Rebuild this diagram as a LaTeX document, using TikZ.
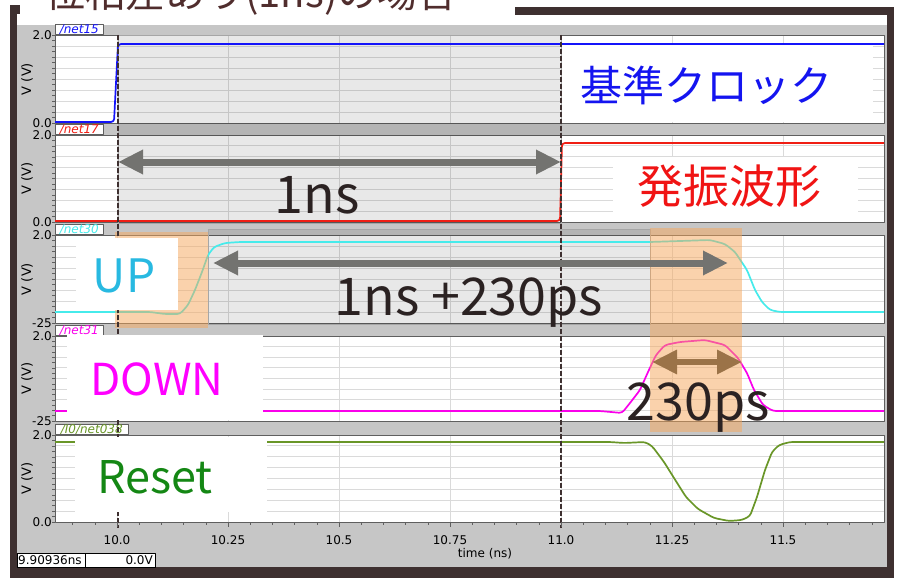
\documentclass[tikz,border=0pt]{standalone}
\usepackage{fontspec}
\setmainfont{Noto Sans CJK JP}
\newfontfamily\axisfont{DejaVu Sans}
\usetikzlibrary{arrows.meta}
\definecolor{framecol}{RGB}{62,48,48}
\definecolor{bggray}{RGB}{198,198,198}
\definecolor{gridcol}{RGB}{218,218,218}
\definecolor{borderc}{RGB}{95,95,95}
\definecolor{wblue}{RGB}{20,20,250}
\definecolor{wred}{RGB}{240,30,20}
\definecolor{wcyan}{RGB}{70,235,235}
\definecolor{wmag}{RGB}{250,0,235}
\definecolor{wolive}{RGB}{105,150,40}
\definecolor{hiorange}{RGB}{247,167,91}
\definecolor{arrowgray}{RGB}{115,115,112}
\definecolor{arrowbrown}{RGB}{155,115,72}
\definecolor{textdark}{RGB}{43,34,34}
\definecolor{titlecol}{RGB}{80,45,45}
\definecolor{lblblue}{RGB}{20,20,240}
\definecolor{lblred}{RGB}{240,20,20}
\definecolor{lblup}{RGB}{40,185,225}
\definecolor{lbldown}{RGB}{255,0,255}
\definecolor{lblreset}{RGB}{20,135,20}
\begin{document}
\begin{tikzpicture}[x=1pt,y=-1pt,line join=round,
wave/.style={line width=1.7pt,rounded corners=3pt},
gridline/.style={draw=gridcol,line width=0.8pt},
axislabel/.style={font=\axisfont\fontsize{12}{13}\selectfont,inner sep=1pt},
tabbox/.style={draw=borderc,fill=white,line width=0.6pt,minimum height=10pt,
inner sep=0pt,anchor=south west,font=\axisfont\itshape\fontsize{12}{12}\selectfont},
cursor/.style={draw=framecol,line width=2pt,dash pattern=on 5pt off 2pt},
bigarrow/.style={line width=7pt,
{Triangle[length=25pt,width=23pt]}-{Triangle[length=25pt,width=23pt]}},
biglabel/.style={text=textdark,font=\fontsize{52}{60}\selectfont,
inner sep=0pt,anchor=base}]
\useasboundingbox (0,0) rectangle (898,578);
% Rahmen und Hintergrund
\fill[bggray] (17,25) rectangle (887,567);
\fill[framecol] (10,5) rectangle (17,578);
\fill[framecol] (10,5) rectangle (20,14);
\fill[framecol] (515,7) rectangle (894,15);
\fill[framecol] (887,7) rectangle (894,578);
\fill[framecol] (10,567) rectangle (894,578);
\node[text=titlecol,font=\fontsize{40}{44}\selectfont,anchor=base west,inner sep=0pt]
(title) at (45,8) {位相差あり(1ns)の場合};
% Panels: oben/unten/untere Marke
\foreach \t/\b/\lo [count=\i] in {35/123/0.0,135/222/0.0,235/323/-25,336/421/-25,435/522/0.0}{
\fill[white] (55,\t) rectangle (884,\b);
\foreach \k in {1,...,7}
\draw[gridline] (55,{\t+\k*(\b-\t)/8}) -- (884,{\t+\k*(\b-\t)/8});
\foreach \gx in {117,228,339,450,561,672,783}
\draw[gridline] (\gx,\t) -- (\gx,\b);
\draw[borderc,line width=0.8pt] (55,\t) rectangle (884,\b);
\foreach \k in {0,...,16}
\draw[borderc,line width=0.5pt] (52,{\t+\k*(\b-\t)/16}) -- (55,{\t+\k*(\b-\t)/16});
\node[axislabel,anchor=east] (hi\i) at (53,\t) {2.0};
\node[axislabel,anchor=east] (lo\i) at (53,\b) {\lo};
\node[axislabel,rotate=90,font=\axisfont\fontsize{13}{14}\selectfont] (vv\i) at (27,{(\t+\b)/2}) {V (V)};
}
% Reiter
\node[tabbox,text=wblue,minimum width=48pt] (tab1) at (55,35) {/net15};
\node[tabbox,text=wred,minimum width=48pt] (tab2) at (55,135) {/net17};
\node[tabbox,text=wcyan,minimum width=48pt] (tab3) at (55,235) {/net30};
\node[tabbox,text=wmag,minimum width=48pt] (tab4) at (55,336) {/net31};
\node[tabbox,text=wolive,minimum width=73pt] (tab5) at (55,435) {/I0/net038};
% graue Bereiche
\filldraw[fill=black,fill opacity=0.09,draw=gray!70,line width=0.8pt] (118,35) rectangle (561,223);
\filldraw[fill=black,fill opacity=0.09,draw=gray!70,line width=0.8pt] (208,229) rectangle (650,324);
% Kurven
\draw[wave,wblue] (55,122) -- (114,122) -- (118,44) -- (884,44);
\draw[wave,wred] (55,221) -- (560,221) -- (562,143) -- (884,143);
\draw[wave,wcyan] (55,312) -- (150,312) -- (165,314) -- (180,314) -- (188,305)
-- (195,290) -- (202,272) -- (208,255) -- (214,247) -- (225,243) -- (240,242)
-- (650,242) -- (680,241) -- (710,240) -- (725,244) -- (735,252) -- (747,270)
-- (755,290) -- (762,302) -- (770,310) -- (780,312) -- (884,312);
\draw[wave,wmag] (55,411) -- (600,411) -- (622,413) -- (630,403) -- (640,390)
-- (648,372) -- (656,355) -- (665,345) -- (680,342) -- (705,340) -- (725,345)
-- (738,358) -- (747,373) -- (754,390) -- (763,405) -- (773,411) -- (884,411);
\draw[wave,wolive] (55,442) -- (610,442) -- (624,443) -- (645,442) -- (652,446)
-- (664,462) -- (674,478) -- (686,497) -- (698,509) -- (714,518) -- (729,521)
-- (742,520) -- (750,516) -- (757,497) -- (765,470) -- (772,452) -- (779,445)
-- (790,442) -- (884,442);
% orange Markierungen
\fill[hiorange,opacity=0.5] (115,232) rectangle (208,328);
\fill[hiorange,opacity=0.5] (650,228) rectangle (742,432);
% Cursor
\draw[cursor] (118,35) -- (118,528);
\draw[cursor] (561,35) -- (561,528);
% Beschriftungen in weissen Feldern
\fill[white] (562,45) rectangle (873,122);
\node[text=lblblue,font=\fontsize{42}{46}\selectfont,inner sep=0pt] (clk) at (706,85) {基準クロック};
\fill[white] (613,157) rectangle (858,222);
\node[text=lblred,font=\fontsize{46}{50}\selectfont,inner sep=0pt] (osc) at (729,186) {発振波形};
\fill[white] (76,238) rectangle (178,310);
\node[text=lblup,font=\fontsize{46}{50}\selectfont,inner sep=0pt,anchor=base] (up) at (124,292) {UP};
\fill[white] (67,335) rectangle (263,420);
\node[text=lbldown,font=\fontsize{44}{48}\selectfont,inner sep=0pt,anchor=base] (down) at (157,395) {DOWN};
\fill[white] (75,437) rectangle (267,512);
\node[text=lblreset,font=\fontsize{45}{49}\selectfont,inner sep=0pt,anchor=base] (reset) at (155,493) {Reset};
% Pfeile
\coordinate (a1l) at (118,162);
\coordinate (a1r) at (561,162);
\coordinate (a2l) at (213,263);
\coordinate (a2r) at (728,263);
\coordinate (a3l) at (652,362);
\coordinate (a3r) at (742,362);
\draw[bigarrow,arrowgray] (a1l) -- (a1r);
\draw[bigarrow,arrowgray] (a2l) -- (a2r);
\draw[bigarrow,arrowbrown,line width=6pt] (a3l) -- (a3r);
\node[biglabel] (t1ns) at (317,213) {1ns};
\node[biglabel] (t1ns230) at (469,315) {1ns +230ps};
\node[biglabel] (t230) at (698,420) {230ps};
% Zeitachse
\foreach \k in {-2,...,34}
\draw[borderc,line width=0.5pt] ({117+22.2*\k},522) -- ({117+22.2*\k},525);
\foreach \gx/\tl [count=\j] in {117/10.0,228/10.25,339/10.5,450/10.75,561/11.0,672/11.25,783/11.5}{
\draw[borderc,line width=0.6pt] (\gx,522) -- (\gx,527);
\node[axislabel] (tk\j) at (\gx,540) {\tl};
}
\node[axislabel] (tlab) at (485,554) {time (ns)};
% Statuszeile
\filldraw[fill=white,draw=black,line width=0.6pt] (17,553) rectangle (85,567);
\filldraw[fill=white,draw=black,line width=0.6pt] (85,553) rectangle (155,567);
\node[axislabel,anchor=west] (st1) at (17,560.5) {9.90936ns};
\node[axislabel,anchor=east] (st2) at (154,560.5) {0.0V};
\end{tikzpicture}
\end{document}
